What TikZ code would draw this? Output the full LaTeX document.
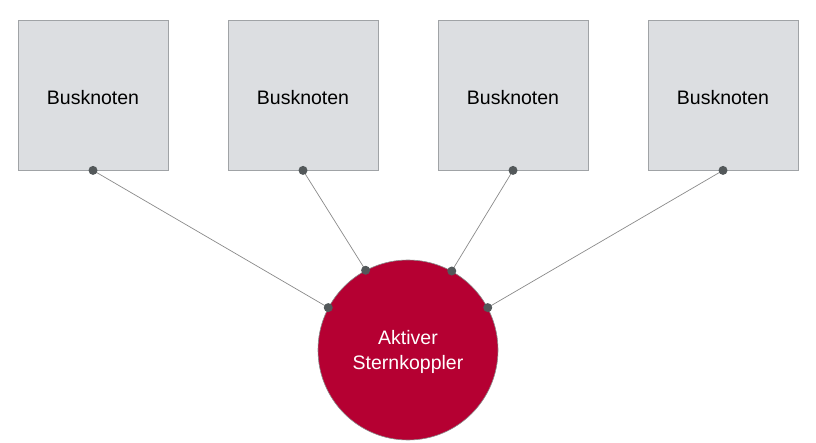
\documentclass[tikz,border=0pt]{standalone}
\usepackage{fontspec}
\setmainfont{Liberation Sans}
\definecolor{boxfill}{HTML}{DCDEE1}
\definecolor{boxline}{HTML}{A0A3A6}
\definecolor{redfill}{HTML}{B50032}
\definecolor{dotcol}{HTML}{53585A}
\definecolor{linecol}{HTML}{8A8A8A}
\begin{document}
\begin{tikzpicture}[x=1pt,y=-1pt,
  busbox/.style={draw=boxline,fill=boxfill,line width=0.8pt,minimum width=150pt,minimum height=150pt,inner sep=0pt,font=\fontsize{19.5}{22}\selectfont},
  coupler/.style={circle,draw=linecol,fill=redfill,line width=0.6pt,minimum size=180pt,inner sep=0pt,text=white,align=center,font=\fontsize{19.5}{25}\selectfont},
  dot/.style={circle,fill=dotcol,minimum size=9pt,inner sep=0pt},
  conn/.style={draw=linecol,line width=0.7pt}]
\useasboundingbox (0,0) rectangle (816,443);
\node[busbox] (b1) at (93,95) {};
\node[busbox] (b2) at (303,95) {};
\node[busbox] (b3) at (513,95) {};
\node[busbox] (b4) at (723,95) {};
\foreach \n in {b1,b2,b3,b4} \node[font=\fontsize{19.5}{22}\selectfont] (t\n) at ([yshift=-3pt]\n.center) {Busknoten};
\node[coupler] (c) at (408,350) {};
\node[align=center,text=white,font=\fontsize{19.5}{25}\selectfont] (ct) at ([yshift=-2pt]c.center) {Aktiver\\Sternkoppler};
\draw[conn] (b1.south) -- (c.152);
\draw[conn] (b2.south) -- (c.118);
\draw[conn] (b3.south) -- (c.61);
\draw[conn] (b4.south) -- (c.28);
\foreach \n in {b1,b2,b3,b4} \node[dot] at (\n.south) {};
\foreach \a in {152,118,61,28} \node[dot] at (c.\a) {};
\end{tikzpicture}
\end{document}
